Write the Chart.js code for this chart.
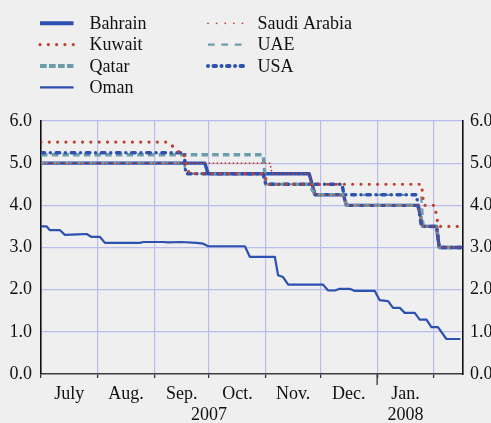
<!DOCTYPE html>
<html><head><meta charset="utf-8">
<script src="https://cdn.jsdelivr.net/npm/chart.js@4.4.1/dist/chart.umd.min.js"></script>
<style>html,body{margin:0;padding:0;background:#efefef;}canvas{display:block;}</style>
</head><body>
<canvas id="c" width="491" height="423"></canvas>
<script>
// x = days since 1 July 2007
const monthStarts = [0, 31, 62, 92, 123, 153, 184, 215];
const monthMids = [15.5, 46.5, 77, 107.5, 138, 168.5, 199.5];
const monthLabels = ['July', 'Aug.', 'Sep.', 'Oct.', 'Nov.', 'Dec.', 'Jan.'];
const yearDays = [92, 199.5];
const yearLabels = ['2007', '2008'];
const yTicks = [0, 1, 2, 3, 4, 5, 6];

const bahrainDays = [0, 89.7, 91.5, 146.8, 150, 165.5, 167.2, 206.4, 209, 216.5, 218, 230];
const bahrainVals = [5.0, 5.0, 4.75, 4.75, 4.25, 4.25, 4.0, 4.0, 3.5, 3.5, 3.0, 3.0];

const kuwaitDays = [0, 69.5, 76, 78, 81, 122.5, 123.6, 208.3, 209.5, 215.5, 217.5, 230];
const kuwaitVals = [5.5, 5.5, 5.25, 5.25, 4.75, 4.75, 4.5, 4.5, 4.0, 4.0, 3.5, 3.5];

const qatarDays = [0, 121.6, 123, 146.8, 150, 165.5, 167.2, 206.4, 209, 216.5, 218, 230];
const qatarVals = [5.2, 5.2, 4.5, 4.5, 4.25, 4.25, 4.0, 4.0, 3.5, 3.5, 3.0, 3.0];

const omanDays = [0, 3.1, 4.9, 10.4, 13.1, 20.2, 25, 27.7, 32.3, 35, 54.2, 56, 66.9, 69.5, 77, 85.2, 88.8, 91.5,
  111.6, 114.3, 128, 129.8, 132.5, 135.3, 154.4, 157.2, 160.8, 163.6, 169, 171.8, 182.7, 185.4, 190, 192.7,
  196.4, 199.1, 204.6, 207.3, 211, 213.7, 217.3, 221.9, 229.6];
const omanVals = [3.5, 3.5, 3.41, 3.41, 3.3, 3.31, 3.32, 3.25, 3.25, 3.11, 3.11, 3.13, 3.13, 3.12, 3.13, 3.11, 3.09, 3.03,
  3.03, 2.78, 2.78, 2.34, 2.3, 2.12, 2.12, 1.98, 1.98, 2.02, 2.02, 1.97, 1.97, 1.75, 1.73, 1.57,
  1.57, 1.45, 1.45, 1.29, 1.29, 1.11, 1.11, 0.83, 0.83];

const saudiDays = [0, 125.3, 126.5, 146.8, 150, 165.5, 167.2, 206.4, 209, 216.5, 218, 230];
const saudiVals = [5.0, 5.0, 4.75, 4.75, 4.25, 4.25, 4.0, 4.0, 3.5, 3.5, 3.0, 3.0];

const uaeDays = [0, 78.4, 79.2, 121.6, 123, 164.8, 165.8, 208, 209.5, 216.5, 218, 230];
const uaeVals = [5.0, 5.0, 4.75, 4.75, 4.5, 4.5, 4.25, 4.25, 3.5, 3.5, 3.0, 3.0];

const usaDays = [0, 78.4, 79.2, 121.6, 123, 164.8, 165.8, 205.5, 208.3, 216.5, 218, 230];
const usaVals = [5.25, 5.25, 4.75, 4.75, 4.5, 4.5, 4.25, 4.25, 3.5, 3.5, 3.0, 3.0];

const BLUE = '#2d51b1', RED = '#c23f2f', TEAL = '#6b9dab', GRID = '#b9bdeb';
const FONT = 'Liberation Serif, Times New Roman, serif';

function pts(d, v) { return d.map((x, i) => ({ x: x, y: v[i] })); }

const datasets = [
  { label: 'Saudi Arabia', data: pts(saudiDays, saudiVals), borderColor: RED, borderWidth: 1.8,
    borderDash: [0.01, 4], borderCapStyle: 'round', order: 1,
    legendDash: [0.01, 8.6], legendWidth: 1.8 },
  { label: 'Kuwait', data: pts(kuwaitDays, kuwaitVals), borderColor: RED, borderWidth: 3.2,
    borderDash: [0.01, 8.3], borderCapStyle: 'round', order: 2,
    legendDash: [0.01, 8.3], legendWidth: 3.2 },
  { label: 'USA', data: pts(usaDays, usaVals), borderColor: BLUE, borderWidth: 3.5,
    borderDash: [3.5, 5.8, 0.01, 5.8], borderCapStyle: 'round', order: 3,
    legendDash: [0.01, 5.5, 2.5, 5.5], legendWidth: 4 },
  { label: 'Qatar', data: pts(qatarDays, qatarVals), borderColor: TEAL, borderWidth: 3.4,
    borderDash: [6.5, 4.2], borderCapStyle: 'butt', order: 4,
    legendDash: [6.7, 2.3], legendWidth: 4 },
  { label: 'UAE', data: pts(uaeDays, uaeVals), borderColor: TEAL, borderWidth: 2.2,
    borderDash: [6.5, 5.5], borderCapStyle: 'butt', order: 5,
    legendDash: [6.7, 6.7], legendWidth: 2.2 },
  { label: 'Bahrain', data: pts(bahrainDays, bahrainVals), borderColor: BLUE, borderWidth: 3.4,
    borderDash: [], borderCapStyle: 'butt', order: 6, legendDash: [], legendWidth: 4 },
  { label: 'Oman', data: pts(omanDays, omanVals), borderColor: BLUE, borderWidth: 2.2,
    borderDash: [], borderCapStyle: 'butt', order: 7, legendDash: [], legendWidth: 2.3 }
];
datasets.forEach(d => { d.pointRadius = 0; d.fill = false; d.tension = 0; d.borderJoinStyle = 'round'; });

const legendCols = [['Bahrain', 'Kuwait', 'Qatar', 'Oman'], ['Saudi Arabia', 'UAE', 'USA']];

const isStart = v => monthStarts.indexOf(v) >= 0;
const allTicks = monthStarts.concat(monthMids).sort((a, b) => a - b);

const bgPlugin = {
  id: 'bg',
  beforeDraw(chart) {
    const c = chart.ctx; c.save(); c.fillStyle = '#efefef';
    c.fillRect(0, 0, chart.width, chart.height); c.restore();
  }
};

const extrasPlugin = {
  id: 'extras',
  afterDraw(chart) {
    const c = chart.ctx;
    const rowY = [23.3, 44.6, 65.9, 87.4];
    const colLine = [[40, 73.5], [208, 243]];
    const colText = [89.5, 257.5];
    c.save();
    c.font = '18px ' + FONT;
    c.fillStyle = '#111';
    c.textBaseline = 'alphabetic';
    legendCols.forEach((col, ci) => {
      col.forEach((name, ri) => {
        const ds = chart.data.datasets.find(d => d.label === name);
        const y = rowY[ri];
        c.save();
        c.strokeStyle = ds.borderColor;
        c.lineWidth = ds.legendWidth;
        c.lineCap = ds.borderCapStyle;
        c.setLineDash(ds.legendDash);
        c.beginPath(); c.moveTo(colLine[ci][0], y); c.lineTo(colLine[ci][1], y); c.stroke();
        c.restore();
        c.fillText(name, colText[ci], y + 5.8);
      });
    });
    const xs = chart.scales.x;
    const px = xs.getPixelForValue(184);
    c.strokeStyle = '#333'; c.lineWidth = 1.3;
    c.beginPath(); c.moveTo(px, chart.chartArea.bottom); c.lineTo(px, chart.chartArea.bottom + 11); c.stroke();
    c.restore();
  }
};

new Chart(document.getElementById('c'), {
  type: 'line',
  data: { datasets: datasets },
  options: {
    responsive: false,
    animation: false,
    devicePixelRatio: 1,
    layout: { padding: { top: 121, left: 0, right: 0, bottom: 0 } },
    plugins: { legend: { display: false }, tooltip: { enabled: false } },
    scales: {
      x: {
        type: 'linear', position: 'bottom', min: 0, max: 231,
        afterBuildTicks(s) { s.ticks = allTicks.map(v => ({ value: v })); },
        afterFit(s) { s.height = 49; },
        ticks: {
          autoSkip: false, maxRotation: 0, minRotation: 0, padding: 5,
          color: '#111', font: { family: FONT, size: 18 },
          callback(v) {
            const mi = monthMids.indexOf(v), yi = yearDays.indexOf(v);
            if (mi >= 0) return yi >= 0 ? [monthLabels[mi], yearLabels[yi]] : monthLabels[mi];
            if (yi >= 0) return ['', yearLabels[yi]];
            return '';
          }
        },
        grid: {
          color: ctx => (ctx.tick && isStart(ctx.tick.value)) ? GRID : 'rgba(0,0,0,0)',
          tickColor: ctx => (ctx.tick && isStart(ctx.tick.value)) ? '#333' : 'rgba(0,0,0,0)',
          tickLength: 4, lineWidth: 1.2, tickWidth: 1.3
        },
        border: { color: '#3c3c3c', width: 1.5 }
      },
      y: {
        position: 'left', min: 0, max: 6,
        afterBuildTicks(s) { s.ticks = yTicks.map(v => ({ value: v })); },
        afterFit(s) { s.width = 41; },
        ticks: { padding: 9, color: '#111', font: { family: FONT, size: 18 }, callback: v => v.toFixed(1) },
        grid: { color: ctx => (ctx.tick && ctx.tick.value === 0) ? 'rgba(0,0,0,0)' : GRID, drawTicks: false, lineWidth: 1.2 },
        border: { color: '#111', width: 1.6 }
      },
      y2: {
        position: 'right', min: 0, max: 6,
        afterBuildTicks(s) { s.ticks = yTicks.map(v => ({ value: v })); },
        afterFit(s) { s.width = 28; },
        ticks: { padding: 7, color: '#111', font: { family: FONT, size: 18 }, callback: v => v.toFixed(1) },
        grid: { drawOnChartArea: false, drawTicks: false },
        border: { color: '#111', width: 1.6 }
      }
    }
  },
  plugins: [bgPlugin, extrasPlugin]
});
</script>
</body></html>
